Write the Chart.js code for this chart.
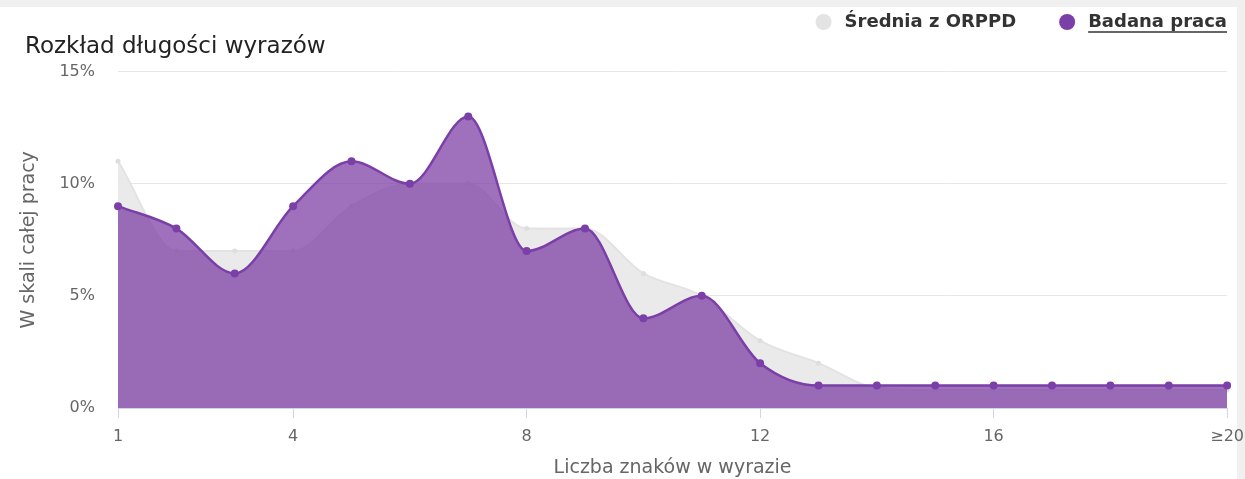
<!DOCTYPE html>
<html lang="pl">
<head>
<meta charset="utf-8">
<title>Rozkład długości wyrazów</title>
<script src="https://cdn.jsdelivr.net/npm/chart.js@4/dist/chart.umd.min.js"></script>
<style>
  html, body { margin: 0; padding: 0; background: #f0f0f0; overflow: hidden; }
  #box {
    position: absolute; left: 0; top: 7px;
    width: 1237px; height: 472px; background: #fff;
  }
  #inner { position: relative; width: 1253px; height: 472px; }
</style>
</head>
<body>
<div id="box"><div id="inner"><canvas id="lenChart"></canvas></div></div>
<script>
/* ── Word length distribution ── */

const lengths   = ['1','2','3','4','5','6','7','8','9','10','11','12','13','14','15','16','17','18','19','≥20'];
const shownTick = ['1','4','8','12','16','≥20'];
const corpusAvg = [11, 7, 7, 7, 9, 10, 10, 8, 8, 6, 5, 3, 2, 0.9, 0.8, 0.8, 0.8, 0.8, 0.8, 0.8];
const thisWork  = [9, 8, 6, 9, 11, 10, 13, 7, 8, 4, 5, 2, 1, 1, 1, 1, 1, 1, 1, 1];
const yTicks    = [0, 5, 10, 15];

const PURPLE   = '#7b3fa8';
const PURPLE_F = 'rgba(126,63,166,0.74)';
const GRAY_L   = '#e3e3e3';
const GRAY_F   = 'rgba(233,233,233,0.95)';
const GRAY_DOT = '#dedede';
const AXIS     = '#ccd6eb';
const FONT     = "'DejaVu Sans', sans-serif";

// legend drawn at the top right, active series underlined
const topLegend = {
  id: 'topLegend',
  afterDraw(chart) {
    const ctx = chart.ctx;
    const items = [
      { text: chart.data.datasets[0].label, color: '#e3e3e3', underline: false },
      { text: chart.data.datasets[1].label, color: PURPLE, underline: true }
    ];
    const r = 8, gap = 13, itemGap = 43, y = 15;
    ctx.save();
    ctx.font = `bold 18px ${FONT}`;
    ctx.textBaseline = 'middle';
    let x = 1227;
    const pos = [];
    for (let i = items.length - 1; i >= 0; i--) {
      const w = ctx.measureText(items[i].text).width;
      pos[i] = { tx: x - w, w };
      x = x - w - gap - 2 * r - itemGap;
    }
    items.forEach((it, i) => {
      const { tx, w } = pos[i];
      ctx.fillStyle = it.color;
      ctx.beginPath();
      ctx.arc(tx - gap - r, y, r, 0, Math.PI * 2);
      ctx.fill();
      ctx.fillStyle = '#333';
      ctx.fillText(it.text, tx, y);
      if (it.underline) {
        ctx.strokeStyle = '#333';
        ctx.lineWidth = 1.5;
        ctx.beginPath();
        ctx.moveTo(tx, y + 10);
        ctx.lineTo(tx + w, y + 10);
        ctx.stroke();
      }
    });
    ctx.restore();
  }
};

new Chart(document.getElementById('lenChart'), {
  type: 'line',
  data: {
    labels: lengths,
    datasets: [
      {
        label: 'Średnia z ORPPD',
        data: corpusAvg,
        borderColor: GRAY_L,
        backgroundColor: GRAY_F,
        borderWidth: 2,
        pointRadius: 2.5,
        pointBackgroundColor: GRAY_DOT,
        pointBorderWidth: 0,
        fill: 'origin',
        cubicInterpolationMode: 'monotone',
        order: 2
      },
      {
        label: 'Badana praca',
        data: thisWork,
        borderColor: PURPLE,
        backgroundColor: PURPLE_F,
        borderWidth: 2.5,
        pointRadius: 4,
        pointBackgroundColor: PURPLE,
        pointBorderWidth: 0,
        fill: 'origin',
        cubicInterpolationMode: 'monotone',
        order: 1
      }
    ]
  },
  options: {
    responsive: true,
    maintainAspectRatio: false,
    animation: false,
    layout: { padding: { left: 25, right: 0, top: 0, bottom: 0 } },
    plugins: {
      legend: { display: false },
      title: {
        display: true,
        text: 'Rozkład długości wyrazów',
        align: 'start',
        color: '#222',
        font: { family: FONT, size: 23, weight: 'normal' },
        padding: { top: 26, bottom: 11 }
      },
      tooltip: { enabled: false }
    },
    scales: {
      x: {
        offset: false,
        grid: {
          drawOnChartArea: false,
          drawTicks: true,
          tickLength: 10,
          color: ctx => shownTick.includes(lengths[ctx.index]) ? AXIS : 'rgba(0,0,0,0)'
        },
        border: { color: AXIS, width: 1 },
        ticks: {
          autoSkip: false,
          maxRotation: 0,
          color: '#666',
          padding: 9,
          font: { family: FONT, size: 16 },
          callback: (v, i) => shownTick.includes(lengths[i]) ? lengths[i] : ''
        },
        title: {
          display: true,
          text: 'Liczba znaków w wyrazie',
          color: '#666',
          font: { family: FONT, size: 19 },
          padding: { top: 1, bottom: 0 }
        }
      },
      y: {
        min: 0,
        max: 15,
        afterBuildTicks: scale => { scale.ticks = yTicks.map(v => ({ value: v })); },
        afterFit: scale => { scale.width = 93; },
        grid: { color: '#e6e6e6', drawTicks: false },
        border: { display: false },
        ticks: {
          color: '#666',
          padding: 23,
          font: { family: FONT, size: 16 },
          callback: v => `${v}%`
        },
        title: {
          display: true,
          text: 'W skali całej pracy',
          color: '#666',
          font: { family: FONT, size: 19 },
          padding: { top: -7, bottom: 0 }
        }
      }
    }
  },
  plugins: [topLegend]
});
</script>
</body>
</html>
